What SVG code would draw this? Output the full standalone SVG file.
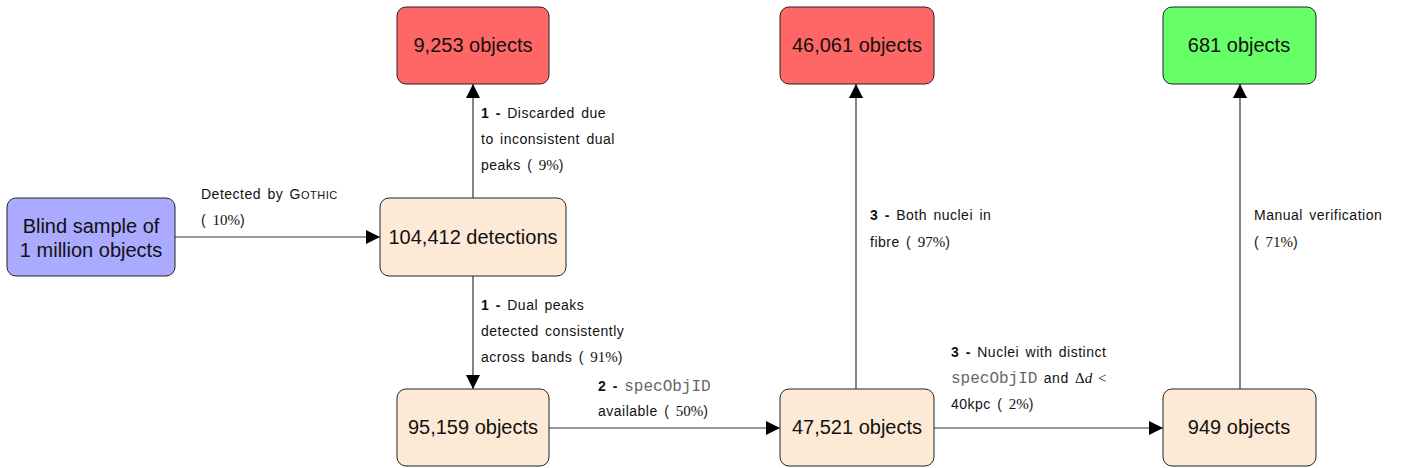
<svg xmlns="http://www.w3.org/2000/svg" width="1401" height="468" viewBox="0 0 1401 468">
<defs>
<marker id="arr" markerWidth="14" markerHeight="14" refX="14" refY="7" orient="auto" markerUnits="userSpaceOnUse">
<path d="M0,0 L14,7 L0,14 Z" fill="#000"/>
</marker>
<style>
.box{stroke:#222;stroke-width:1}
.blue{fill:#aaaaff}
.cream{fill:#fdead6}
.red{fill:#ff6666}
.green{fill:#66ff66}
.nt{font-family:"Liberation Sans",Arial,sans-serif;font-size:20px;fill:#111;text-anchor:middle}
.lb{font-family:"Liberation Sans",Arial,sans-serif;font-size:14px;fill:#111;word-spacing:2px;letter-spacing:0.5px}
.b{font-weight:bold}
.s{font-family:"Liberation Serif","Times New Roman",serif;font-size:15px;letter-spacing:0}
.m{font-family:"Liberation Mono","Courier New",monospace;fill:#666;font-size:16px;letter-spacing:0}
.sc{font-size:11px}
.c{fill:none;stroke:#333;stroke-width:1.2}
</style>
</defs>
<g id="connectors">
<path class="c" d="M175,237 H380" marker-end="url(#arr)"/>
<path class="c" d="M473,198 V84" marker-end="url(#arr)"/>
<path class="c" d="M473,276 V389" marker-end="url(#arr)"/>
<path class="c" d="M549,428 H780" marker-end="url(#arr)"/>
<path class="c" d="M856,389 V84" marker-end="url(#arr)"/>
<path class="c" d="M934,428 H1163" marker-end="url(#arr)"/>
<path class="c" d="M1240,389 V84" marker-end="url(#arr)"/>
</g>
<g id="labels">
<text class="lb" x="201" y="199">Detected by G<tspan class="sc">OTHIC</tspan></text>
<text class="lb" x="201" y="225">( <tspan class="s">10%</tspan>)</text>
<text class="lb" x="481" y="118"><tspan class="b">1 -</tspan> Discarded due</text>
<text class="lb" x="481" y="144">to inconsistent dual</text>
<text class="lb" x="481" y="170">peaks ( <tspan class="s">9%</tspan>)</text>
<text class="lb" x="481" y="310"><tspan class="b">1 -</tspan> Dual peaks</text>
<text class="lb" x="481" y="336">detected consistently</text>
<text class="lb" x="481" y="362">across bands ( <tspan class="s">91%</tspan>)</text>
<text class="lb" x="598" y="391"><tspan class="b">2 -</tspan> <tspan class="m">specObjID</tspan></text>
<text class="lb" x="598" y="416">available ( <tspan class="s">50%</tspan>)</text>
<text class="lb" x="870" y="220"><tspan class="b">3 -</tspan> Both nuclei in</text>
<text class="lb" x="870" y="247">fibre ( <tspan class="s">97%</tspan>)</text>
<text class="lb" x="951" y="357"><tspan class="b">3 -</tspan> Nuclei with distinct</text>
<text class="lb" x="951" y="383"><tspan class="m">specObjID</tspan> and <tspan class="s" font-size="18">Δ<tspan font-style="italic">d</tspan> &lt;</tspan></text>
<text class="lb" x="951" y="409">40kpc ( <tspan class="s">2%</tspan>)</text>
<text class="lb" x="1254" y="220">Manual verification</text>
<text class="lb" x="1254" y="247">( <tspan class="s">71%</tspan>)</text>
</g>
<g id="n-blind">
<rect class="box blue" x="7" y="198" width="168" height="78" rx="9"/>
<text class="nt" x="91" y="233">Blind sample of</text>
<text class="nt" x="91" y="257">1 million objects</text>
</g>
<g id="n-detections">
<rect class="box cream" x="380" y="198" width="186" height="78" rx="9"/>
<text class="nt" x="473" y="244">104,412 detections</text>
</g>
<g id="n-9253">
<rect class="box red" x="397" y="7" width="152" height="77" rx="9"/>
<text class="nt" x="473" y="52">9,253 objects</text>
</g>
<g id="n-95159">
<rect class="box cream" x="397" y="389" width="152" height="77" rx="9"/>
<text class="nt" x="473" y="434">95,159 objects</text>
</g>
<g id="n-46061">
<rect class="box red" x="780" y="7" width="154" height="77" rx="9"/>
<text class="nt" x="857" y="52">46,061 objects</text>
</g>
<g id="n-47521">
<rect class="box cream" x="780" y="389" width="154" height="77" rx="9"/>
<text class="nt" x="857" y="434">47,521 objects</text>
</g>
<g id="n-681">
<rect class="box green" x="1163" y="7" width="153" height="77" rx="9"/>
<text class="nt" x="1239" y="52">681 objects</text>
</g>
<g id="n-949">
<rect class="box cream" x="1163" y="389" width="153" height="77" rx="9"/>
<text class="nt" x="1239" y="434">949 objects</text>
</g>
</svg>
